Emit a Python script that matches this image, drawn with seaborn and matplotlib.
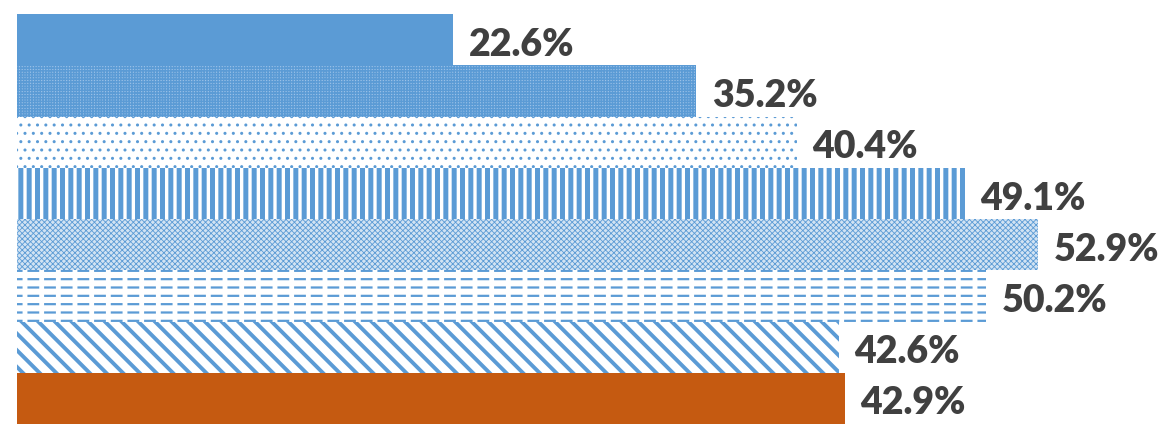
import matplotlib
matplotlib.use("Agg")
import matplotlib.pyplot as plt
import pandas as pd
import seaborn as sns

# Data
categories = ["A", "B", "C", "D", "E", "F", "G", "H"]
values = [22.6, 35.2, 40.4, 49.1, 52.9, 50.2, 42.6, 42.9]
labels = [f"{v:.1f}%" for v in values]

BLUE = "#5B9BD5"
ORANGE = "#C55A11"
# agg draws 6 hatch lines per inch for each hatch character
hatches = [None, "++++++", "..", "||", "xxxxxx", "--", "\\\\", None]
hatch_lw = [0, 1.1, 1.0, 3.6, 0.6, 1.6, 2.8, 0]
faces = [BLUE, "#9CC2E8", "white", "white", "#D2E3F3", "white", "white", ORANGE]

df = pd.DataFrame({"cat": categories, "val": values})

sns.set_style("white")
plt.rcParams["font.family"] = ["Lato", "DejaVu Sans"]

fig = plt.figure(figsize=(11.62, 4.25), dpi=100)
ax = fig.add_axes([17 / 1162, 1 / 425, 1 - 17 / 1162, 410 / 425])

sns.barplot(data=df, x="val", y="cat", orient="h", width=1.0, color=BLUE, ax=ax)

for i, p in enumerate(ax.patches):
    p.set_facecolor(faces[i])
    p.set_linewidth(0)
    if hatches[i]:
        p.set_edgecolor(BLUE)
        p.set_hatch(hatches[i])
        if hasattr(p, "set_hatch_linewidth"):
            p.set_hatch_linewidth(hatch_lw[i])

# white vertical gaps turn the horizontal lines of bar F into dashes
ax.barh([5], [values[5]], height=1.0, facecolor="none", edgecolor="white",
        linewidth=0, hatch="|")
if hasattr(ax.patches[-1], "set_hatch_linewidth"):
    ax.patches[-1].set_hatch_linewidth(3.5)

for i, (v, lab) in enumerate(zip(values, labels)):
    ax.text(v + 0.8, i + 0.1, lab, va="center", ha="left", fontsize=27,
            fontweight="heavy", color="#404040")

ax.set_xlim(0, 1145 / 19.3)
ax.set_ylim(7.5, -0.5)
ax.set_xlabel("")
ax.set_ylabel("")
ax.set_xticks([])
ax.set_yticks([])
sns.despine(ax=ax, left=True, bottom=True)

fig.savefig("out.png", dpi=100)
